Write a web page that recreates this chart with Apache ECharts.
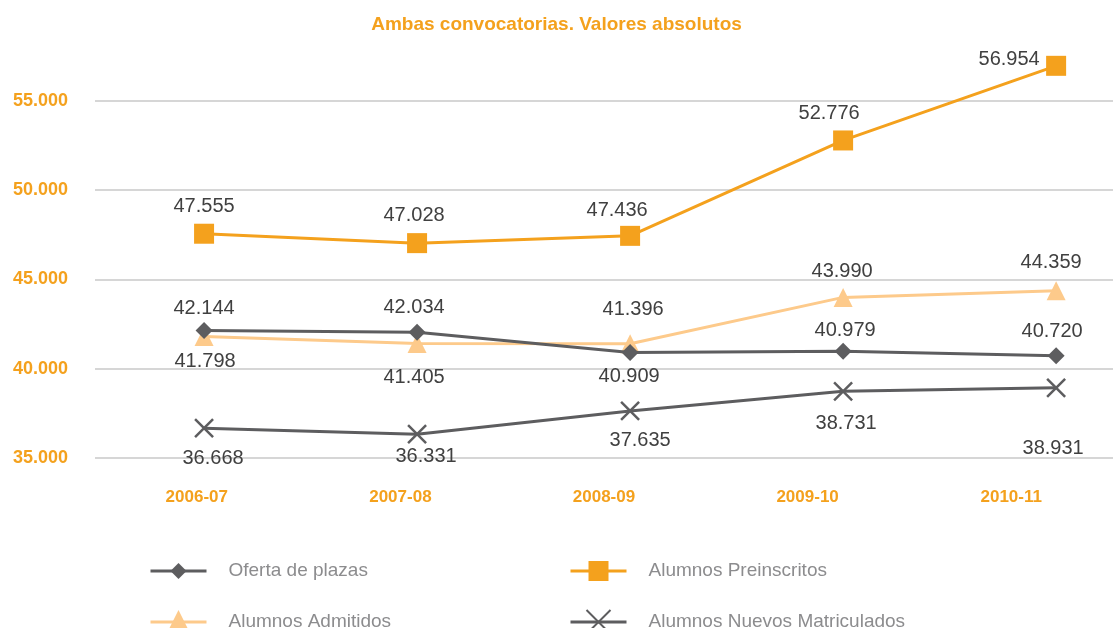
<!DOCTYPE html>
<html>
<head>
<meta charset="utf-8">
<script src="https://cdn.jsdelivr.net/npm/echarts@6/dist/echarts.min.js"></script>
<style>
  html, body { margin: 0; padding: 0; background: #fff; }
  #chart { width: 1113px; height: 628px; }
</style>
</head>
<body>
<div id="chart"></div>
<script>
// datos
const cursos = ['2006-07', '2007-08', '2008-09', '2009-10', '2010-11']
const ofertaPlazas = [42144, 42034, 40909, 40979, 40720]
const preinscritos = [47555, 47028, 47436, 52776, 56954]
const admitidos = [41798, 41405, 41396, 43990, 44359]
const matriculados = [36668, 36331, 37635, 38731, 38931]

// desplazamiento de las etiquetas respecto al punto [dx, dy]
const shiftOferta = [[0, -22], [-3, -25], [-1, 24], [2, -21], [-4, -24]]
const shiftPre = [[0, -27], [-3, -28], [-13, -25], [-14, -27], [-47, -6]]
const shiftAdm = [[1, 25], [-3, 34], [3, -34], [-1, -26], [-5, -28]]
const shiftMat = [[9, 30], [9, 22], [10, 30], [3, 32], [-3, 61]]

const naranja = '#f4a11d'
const naranjaClaro = '#fdca8b'
const gris = '#5d5d5f'
const fuente = 'Liberation Sans, Arial, sans-serif'

function fmt(v) {
  return String(v).replace(/\B(?=(\d{3})+(?!\d))/g, '.')
}

function buildData(values, shifts) {
  return values.map((v, i) => ({
    value: [i, v],
    label: { offset: shifts[i] }
  }))
}

function serie(name, values, shifts, color, symbol, symbolSize, extra) {
  return Object.assign({
    name: name,
    type: 'line',
    xAxisIndex: 0,
    symbol: symbol,
    symbolSize: symbolSize,
    showAllSymbol: true,
    lineStyle: { color: color, width: 3 },
    itemStyle: { color: color },
    label: {
      show: true,
      position: 'inside',
      color: '#404040',
      fontFamily: fuente,
      fontSize: 20,
      formatter: p => fmt(p.value[1])
    },
    emphasis: { disabled: true },
    data: buildData(values, shifts)
  }, extra || {})
}

// una leyenda por elemento, en dos columnas
function leyenda(name, left, centerY, itemHeight) {
  return {
    left: left,
    top: centerY - itemHeight / 2,
    itemWidth: 56,
    itemHeight: itemHeight,
    lineStyle: { width: 3 },
    data: [name],
    textStyle: {
      color: '#8c8c8e',
      fontFamily: fuente,
      fontSize: 19,
      lineHeight: itemHeight,
      padding: [0, 0, 0, 17]
    }
  }
}

let myChart = echarts.init(document.getElementById('chart'))
const option = {
  animation: false,
  title: {
    text: 'Ambas convocatorias. Valores absolutos',
    left: 'center',
    top: 10,
    textStyle: { color: naranja, fontFamily: fuente, fontWeight: 'bold', fontSize: 19 }
  },
  legend: [
    leyenda('Oferta de plazas', 144, 566, 20),
    leyenda('Alumnos Admitidos', 144, 617, 30),
    leyenda('Alumnos Preinscritos', 564, 566, 25),
    leyenda('Alumnos Nuevos Matriculados', 564, 617, 30)
  ],
  grid: { left: 95, right: 0, top: 65, bottom: 170 },
  xAxis: [
    {
      type: 'value',
      position: 'top',
      min: -0.512,
      max: 4.267,
      show: false
    },
    {
      type: 'category',
      position: 'bottom',
      data: cursos,
      boundaryGap: true,
      axisLine: { show: false },
      axisTick: { show: false },
      axisLabel: { margin: 31, color: naranja, fontFamily: fuente, fontWeight: 'bold', fontSize: 17 }
    }
  ],
  yAxis: {
    type: 'value',
    min: 35000,
    max: 57000,
    interval: 5000,
    axisLine: { show: false },
    axisTick: { show: false },
    splitLine: { show: true, showMaxLine: false, lineStyle: { color: '#c9c9c9', width: 1.5 } },
    axisLabel: {
      margin: 27,
      showMaxLabel: false,
      color: naranja,
      fontFamily: fuente,
      fontWeight: 'bold',
      fontSize: 18,
      formatter: v => fmt(v)
    }
  },
  series: [
    serie('Oferta de plazas', ofertaPlazas, shiftOferta, gris, 'diamond', 17),
    serie('Alumnos Preinscritos', preinscritos, shiftPre, naranja, 'rect', 20, { z: 4 }),
    serie('Alumnos Admitidos', admitidos, shiftAdm, naranjaClaro, 'triangle', 19, { z: 1 }),
    serie('Alumnos Nuevos Matriculados', matriculados, shiftMat, gris, 'path://M0 0L20 20M20 0L0 20', 18, {
      itemStyle: { color: 'none', borderColor: gris, borderWidth: 2.5 }
    })
  ]
}
myChart.setOption(option)
</script>
</body>
</html>
